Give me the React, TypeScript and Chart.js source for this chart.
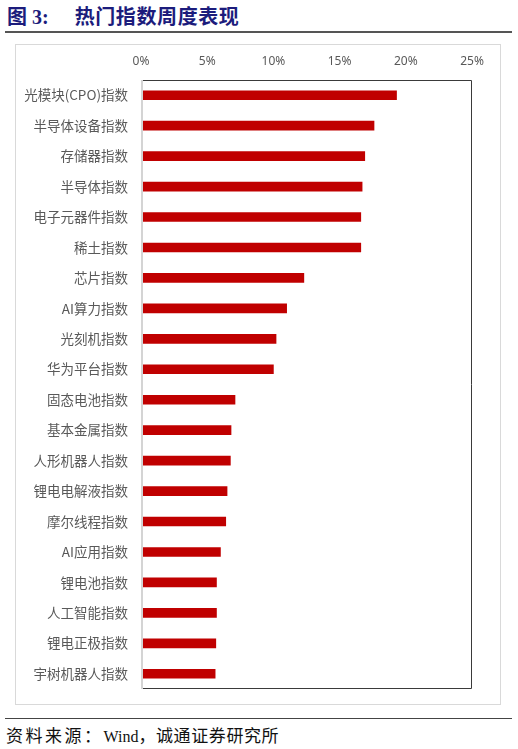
import React, { useEffect, useRef } from "react";
import { Chart, registerables } from "chart.js";

Chart.register(...registerables);

const categories = [
  "光模块(CPO)指数",
  "半导体设备指数",
  "存储器指数",
  "半导体指数",
  "电子元器件指数",
  "稀土指数",
  "芯片指数",
  "AI算力指数",
  "光刻机指数",
  "华为平台指数",
  "固态电池指数",
  "基本金属指数",
  "人形机器人指数",
  "锂电电解液指数",
  "摩尔线程指数",
  "AI应用指数",
  "锂电池指数",
  "人工智能指数",
  "锂电正极指数",
  "宇树机器人指数",
];

const weeklyReturn = [
  19.3, 17.6, 16.9, 16.7, 16.6, 16.6, 12.3, 11.0, 10.2, 10.0,
  7.1, 6.8, 6.75, 6.5, 6.4, 6.0, 5.7, 5.7, 5.65, 5.6,
];

const xTickValues = [0, 5, 10, 15, 20, 25];

const title = "热门指数周度表现";
const figLabel = "图 3:";
const sourcePrefix = "资料来源：";
const sourceName = "Wind";
const sourceSuffix = "，诚通证券研究所";

const framePlugin = {
  id: "frame",
  afterDraw(chart: any) {
    const { ctx, chartArea: a } = chart;
    ctx.save();
    ctx.strokeStyle = "#3a3a3a";
    ctx.lineWidth = 1;
    ctx.beginPath();
    ctx.moveTo(a.left, a.top + 0.5);
    ctx.lineTo(a.right - 0.5, a.top + 0.5);
    ctx.lineTo(a.right - 0.5, a.bottom - 0.5);
    ctx.lineTo(a.left, a.bottom - 0.5);
    ctx.stroke();
    ctx.strokeStyle = "#d4d4d4";
    ctx.lineWidth = 2;
    ctx.beginPath();
    ctx.moveTo(a.left + 1, a.top);
    ctx.lineTo(a.left + 1, a.bottom);
    ctx.stroke();
    ctx.restore();
  },
};

export default function App() {
  const ref = useRef<HTMLCanvasElement>(null);

  useEffect(() => {
    if (!ref.current) return;
    const chart = new Chart(ref.current, {
      type: "bar",
      data: {
        labels: categories,
        datasets: [
          {
            data: weeklyReturn,
            backgroundColor: "#C00000",
            borderWidth: 0,
            barThickness: 9,
          },
        ],
      },
      options: {
        indexAxis: "y",
        responsive: false,
        animation: false,
        layout: { padding: { left: 0, top: 0, right: 29, bottom: 16 } },
        plugins: {
          legend: { display: false },
          tooltip: { enabled: false },
        },
        scales: {
          x: {
            position: "top",
            min: 0,
            max: 25,
            afterBuildTicks(scale: any) {
              scale.ticks = xTickValues.map((v) => ({ value: v }));
            },
            afterFit(scale: any) {
              scale.height = 36;
              scale.paddingLeft = 0;
              scale.paddingRight = 0;
            },
            grid: { display: false, drawTicks: false },
            border: { display: false },
            ticks: {
              padding: 11,
              color: "#595959",
              font: { size: 12, family: "'Noto Sans', 'Noto Sans CJK SC', sans-serif" },
              callback: (v: any) => v + "%",
            },
          },
          y: {
            afterFit(scale: any) {
              scale.width = 126;
              scale.paddingTop = 0;
              scale.paddingBottom = 0;
            },
            grid: { display: false, drawTicks: false },
            border: { display: false },
            ticks: {
              padding: 13,
              color: "#595959",
              font: { size: 13.5, family: "'Noto Sans CJK SC', sans-serif" },
            },
          },
        },
      },
      plugins: [framePlugin],
    });
    return () => chart.destroy();
  }, []);

  return (
    <div
      style={{
        position: "absolute",
        left: 0,
        top: 0,
        width: 518,
        height: 749,
        background: "#fff",
        overflow: "hidden",
      }}
    >
      <div
        style={{
          position: "absolute",
          left: 7,
          top: 3,
          fontSize: 20,
          fontWeight: 700,
          color: "#1c1c7c",
          fontFamily: "'Liberation Serif', 'Noto Sans CJK SC', serif",
          whiteSpace: "nowrap",
          lineHeight: "26px",
        }}
      >
        <span>{figLabel}</span>
        <span
          style={{
            marginLeft: 26,
            letterSpacing: 0.6,
            fontFamily: "'Noto Sans CJK SC', sans-serif",
          }}
        >
          {title}
        </span>
      </div>
      <div
        style={{
          position: "absolute",
          left: 5,
          top: 31,
          width: 507,
          height: 0,
          borderTop: "2px solid #555",
        }}
      />
      <div
        style={{
          position: "absolute",
          left: 15,
          top: 44,
          width: 486,
          height: 661,
          boxSizing: "border-box",
          border: "1px solid #d9d9d9",
        }}
      />
      <canvas
        ref={ref}
        width={486}
        height={661}
        style={{ position: "absolute", left: 15, top: 44, width: 486, height: 661 }}
      />
      <div
        style={{
          position: "absolute",
          left: 5,
          top: 718,
          width: 507,
          height: 0,
          borderTop: "1.5px solid #444",
        }}
      />
      <div
        style={{
          position: "absolute",
          left: 6,
          top: 723,
          fontSize: 17,
          color: "#111",
          fontFamily: "'Noto Sans CJK SC', serif",
          whiteSpace: "nowrap",
          lineHeight: "24px",
        }}
      >
        <span style={{ letterSpacing: 2.5 }}>{sourcePrefix}</span>
        <span style={{ fontFamily: "'Liberation Serif', serif", fontSize: 16 }}>{sourceName}</span>
        <span style={{ letterSpacing: 0.6 }}>{sourceSuffix}</span>
      </div>
    </div>
  );
}
